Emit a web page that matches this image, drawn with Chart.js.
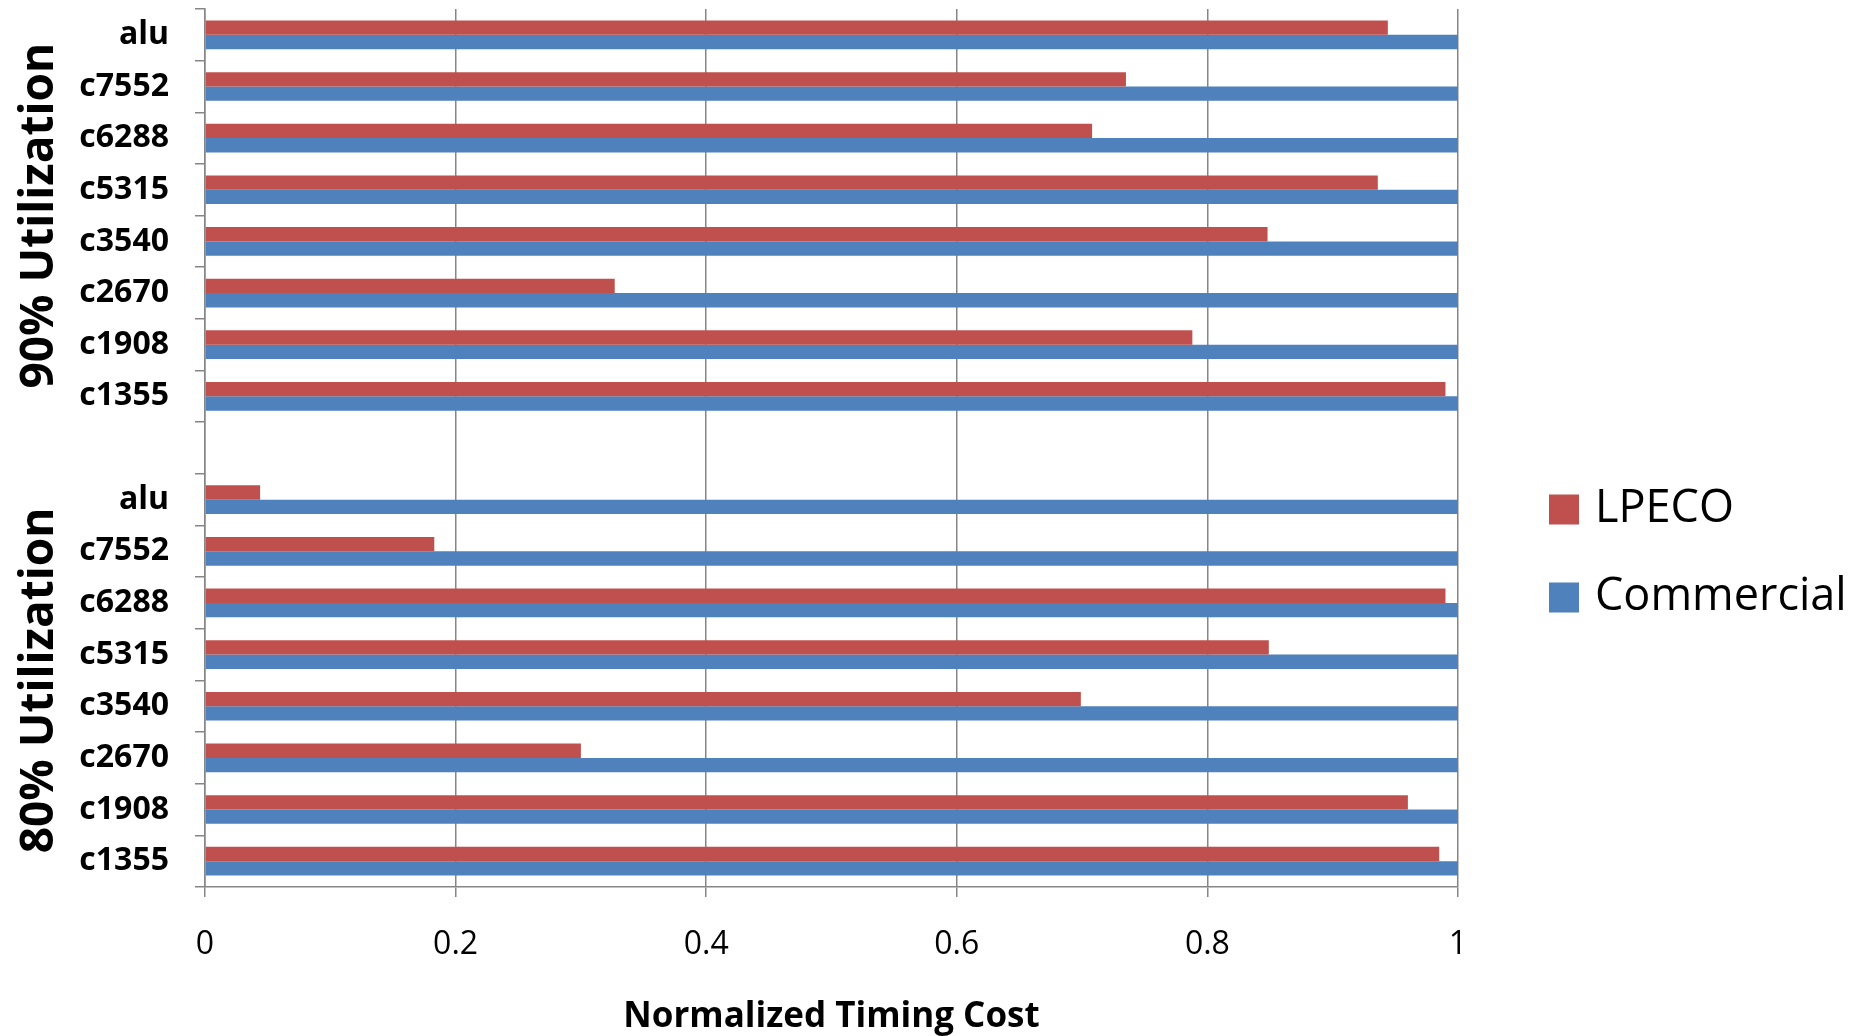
<!DOCTYPE html>
<html>
<head>
<meta charset="utf-8">
<script src="https://cdn.jsdelivr.net/npm/chart.js@4.4.0/dist/chart.umd.min.js"></script>
<style>
  html, body { margin: 0; padding: 0; background: #ffffff; }
  #wrap { position: relative; width: 1866px; height: 1036px; }
</style>
</head>
<body>
<div id="wrap"><canvas id="chart"></canvas></div>
<script>
// Benchmark circuits, listed top to bottom within each utilization group
const circuits = ['alu', 'c7552', 'c6288', 'c5315', 'c3540', 'c2670', 'c1908', 'c1355'];
const groupNames = ['90% Utilization', '80% Utilization'];
const seriesNames = ['LPECO', 'Commercial'];

// Normalized timing cost per circuit
const lpeco90      = [0.944, 0.735, 0.708, 0.936, 0.848, 0.327, 0.788, 0.990];
const commercial90 = [1, 1, 1, 1, 1, 1, 1, 1];
const lpeco80      = [0.044, 0.183, 0.990, 0.849, 0.699, 0.300, 0.960, 0.985];
const commercial80 = [1, 1, 1, 1, 1, 1, 1, 1];

const xTicks = [0, 0.2, 0.4, 0.6, 0.8, 1];
const xTickLabels = ['0', '0.2', '0.4', '0.6', '0.8', '1'];

// One empty row separates the two utilization groups
const labels = [...circuits, '', ...circuits];
const lpecoData = [...lpeco90, null, ...lpeco80];
const commercialData = [...commercial90, null, ...commercial80];

const FONT = "'Open Sans', sans-serif";
const AXIS_GRAY = '#868686';

// Rotated group captions, centred on each group's rows
const groupLabelPlugin = {
  id: 'groupLabels',
  afterDraw(chart) {
    const { ctx, scales: { y } } = chart;
    ctx.save();
    ctx.font = "bold 46px " + FONT;
    ctx.fillStyle = '#000000';
    ctx.textAlign = 'center';
    ctx.textBaseline = 'middle';
    groupNames.forEach((name, g) => {
      const first = g * (circuits.length + 1);
      const last = first + circuits.length - 1;
      const yc = (y.getPixelForValue(first) + y.getPixelForValue(last)) / 2;
      ctx.save();
      ctx.translate(40, yc);
      ctx.rotate(-Math.PI / 2);
      ctx.fillText(name, 0, 0);
      ctx.restore();
    });
    ctx.restore();
  }
};

// Series key at the right of the plot
const sideLegendPlugin = {
  id: 'sideLegend',
  afterDraw(chart) {
    const ctx = chart.ctx;
    const x0 = 1549, firstY = 509.5, step = 88, box = 30;
    ctx.save();
    ctx.font = "45px " + FONT;
    ctx.textAlign = 'left';
    ctx.textBaseline = 'middle';
    chart.data.datasets.forEach((ds, i) => {
      const cy = firstY + i * step;
      ctx.fillStyle = ds.backgroundColor;
      ctx.fillRect(x0, cy - box / 2, box, box);
      ctx.fillStyle = '#000000';
      ctx.fillText(ds.label, x0 + box + 16, cy);
    });
    ctx.restore();
  }
};

new Chart(document.getElementById('chart'), {
  type: 'bar',
  data: {
    labels: labels,
    datasets: [
      {
        label: seriesNames[0],
        data: lpecoData,
        backgroundColor: '#C0504D',
        borderWidth: 0,
        categoryPercentage: 0.555,
        barPercentage: 1.0
      },
      {
        label: seriesNames[1],
        data: commercialData,
        backgroundColor: '#4F81BD',
        borderWidth: 0,
        categoryPercentage: 0.555,
        barPercentage: 1.0
      }
    ]
  },
  options: {
    indexAxis: 'y',
    responsive: true,
    maintainAspectRatio: false,
    animation: false,
    devicePixelRatio: 1,
    layout: { padding: { top: 9, right: 408, bottom: 0, left: 0 } },
    plugins: {
      legend: { display: false },
      tooltip: { enabled: false }
    },
    scales: {
      x: {
        type: 'linear',
        min: 0,
        max: 1,
        grid: { color: AXIS_GRAY, lineWidth: 1.5, drawTicks: true, tickLength: 10 },
        border: { color: AXIS_GRAY, width: 1.5 },
        ticks: {
          font: { family: FONT, size: 32 },
          color: '#000000',
          padding: 29,
          maxRotation: 0,
          callback: (value, index) => xTickLabels[index]
        },
        title: {
          display: true,
          text: 'Normalized Timing Cost',
          font: { family: FONT, size: 35, weight: 'bold' },
          color: '#000000',
          padding: { top: 0, bottom: -2 }
        },
        afterBuildTicks(scale) {
          scale.ticks = xTicks.map(v => ({ value: v }));
        },
        afterFit(scale) {
          scale.height = 149;
          scale.paddingLeft = 0;
          scale.paddingRight = 0;
        }
      },
      y: {
        type: 'category',
        offset: true,
        grid: {
          offset: true,
          drawOnChartArea: false,
          drawTicks: true,
          tickLength: 10,
          color: AXIS_GRAY,
          lineWidth: 1.5
        },
        border: { color: AXIS_GRAY, width: 1.5 },
        ticks: {
          font: { family: FONT, size: 32, weight: 'bold' },
          color: '#000000',
          padding: 26,
          autoSkip: false
        },
        afterFit(scale) {
          scale.width = 205;
          scale.paddingTop = 0;
          scale.paddingBottom = 0;
        }
      }
    }
  },
  plugins: [groupLabelPlugin, sideLegendPlugin]
});
</script>
</body>
</html>
